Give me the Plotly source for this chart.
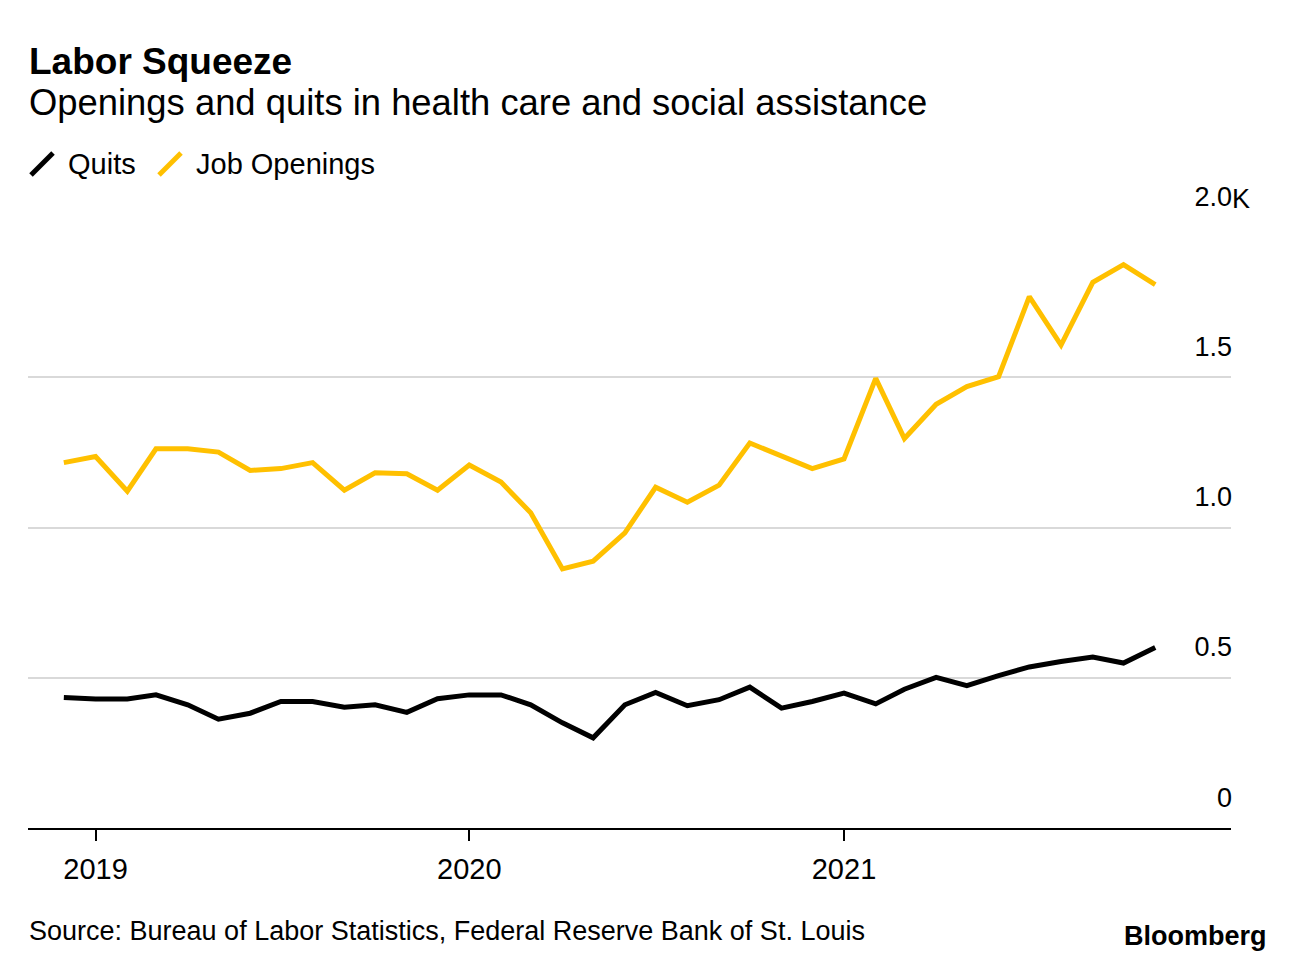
import plotly.graph_objects as go

# ---- data (thousands) ----
months = [
    "2018-12-01", "2019-01-01", "2019-02-01", "2019-03-01", "2019-04-01", "2019-05-01",
    "2019-06-01", "2019-07-01", "2019-08-01", "2019-09-01", "2019-10-01", "2019-11-01",
    "2019-12-01", "2020-01-01", "2020-02-01", "2020-03-01", "2020-04-01", "2020-05-01",
    "2020-06-01", "2020-07-01", "2020-08-01", "2020-09-01", "2020-10-01", "2020-11-01",
    "2020-12-01", "2021-01-01", "2021-02-01", "2021-03-01", "2021-04-01", "2021-05-01",
    "2021-06-01", "2021-07-01", "2021-08-01", "2021-09-01", "2021-10-01", "2021-11-01",
]
quits = [
    0.434, 0.429, 0.429, 0.443, 0.410, 0.362, 0.382, 0.421, 0.421, 0.402, 0.410, 0.385,
    0.430, 0.443, 0.443, 0.410, 0.350, 0.300, 0.410, 0.451, 0.407, 0.427, 0.469, 0.399,
    0.421, 0.449, 0.413, 0.462, 0.501, 0.474, 0.507, 0.536, 0.554, 0.569, 0.549, 0.601,
]
job_openings = [
    1.216, 1.236, 1.121, 1.262, 1.262, 1.251, 1.190, 1.196, 1.216, 1.124, 1.182, 1.179,
    1.124, 1.208, 1.151, 1.049, 0.862, 0.888, 0.982, 1.134, 1.084, 1.141, 1.281, 1.240,
    1.196, 1.228, 1.496, 1.296, 1.410, 1.469, 1.502, 1.768, 1.607, 1.816, 1.875, 1.808,
]
series_names = ["Quits", "Job Openings"]
series_colors = ["#000000", "#FFC000"]

x_tickvals = ["2019-01-01", "2020-01-01", "2021-01-01"]
x_ticktext = ["2019", "2020", "2021"]
y_tickvals = [0, 0.5, 1.0, 1.5, 2.0]
y_ticktext = ["0", "0.5", "1.0", "1.5", "2.0"]

title = "<b>Labor Squeeze</b>"
subtitle = "Openings and quits in health care and social assistance"
source = "Source: Bureau of Labor Statistics, Federal Reserve Bank of St. Louis"

FONT = "Liberation Sans, Arial, Helvetica, sans-serif"

# ---- layout geometry (screen pixels; page body has an 8px margin) ----
SW, SH, OFF = 1296, 962, 8
W, H = SW - OFF, SH - OFF
L, R, T, B = 28, 1231, 227, 828


def px(p):
    return (p - L) / (R - L)


def py(p):
    return (B - p) / (B - T)


fig = go.Figure()
for name, vals, col in zip(series_names, [quits, job_openings], series_colors):
    fig.add_trace(go.Scatter(
        x=months, y=vals, mode="lines", name=name,
        line=dict(color=col, width=5), showlegend=False,
    ))

annotations = [
    dict(text=title, x=px(27), y=py(61), xref="paper", yref="paper",
         xanchor="left", yanchor="middle", showarrow=False,
         font=dict(family=FONT, size=37, color="#000")),
    dict(text=subtitle, x=px(27), y=py(103), xref="paper", yref="paper",
         xanchor="left", yanchor="middle", showarrow=False,
         font=dict(family=FONT, size=36.4, color="#000")),
    dict(text=source, x=px(27), y=py(931), xref="paper", yref="paper",
         xanchor="left", yanchor="middle", showarrow=False,
         font=dict(family=FONT, size=27, color="#000")),
    dict(text="<b>Bloomberg</b>", x=px(1269), y=py(936), xref="paper", yref="paper",
         xanchor="right", yanchor="middle", showarrow=False,
         font=dict(family=FONT, size=27, color="#000")),
    dict(text="K", x=1.0, y=2.0, xref="paper", yref="y",
         xanchor="left", yanchor="middle", yshift=28, xshift=-1, showarrow=False,
         font=dict(family=FONT, size=27, color="#000")),
]

shapes = []
legend_icons = [(31, 175, 53, 153), (159, 175, 181, 153)]
legend_text_x = [66, 194]
for (x0, y0, x1, y1), name, col, tx in zip(legend_icons, series_names, series_colors, legend_text_x):
    shapes.append(dict(type="line", xref="paper", yref="paper",
                       x0=px(x0), y0=py(y0), x1=px(x1), y1=py(y1),
                       line=dict(color=col, width=5)))
    annotations.append(dict(text=name, x=px(tx), y=py(164), xref="paper", yref="paper",
                            xanchor="left", yanchor="middle", showarrow=False,
                            font=dict(family=FONT, size=29, color="#000")))

fig.update_layout(
    width=W, height=H,
    margin=dict(l=L - OFF, r=SW - R, t=T - OFF, b=SH - B, pad=0),
    paper_bgcolor="white", plot_bgcolor="white",
    showlegend=False,
    annotations=annotations,
    shapes=shapes,
    font=dict(family=FONT, color="#000"),
    xaxis=dict(
        type="date",
        range=["2018-10-27", "2022-01-14"],
        tickvals=x_tickvals, ticktext=x_ticktext,
        showgrid=False, zeroline=False,
        showline=True, linecolor="#000", linewidth=2,
        ticks="outside", ticklen=11, tickwidth=1.5, tickcolor="#000",
        tickfont=dict(family=FONT, size=29, color="#000"),
        ticklabelstandoff=3,
    ),
    yaxis=dict(
        range=[0, 2.0], side="right",
        tickvals=y_tickvals, ticktext=y_ticktext,
        showgrid=True, gridcolor="#d9d9d9", gridwidth=2,
        zeroline=False, showline=False, ticks="",
        ticklabelposition="inside top", ticklabeloverflow="allow",
        ticklabelshift=-12, ticklabelstandoff=-4,
        tickfont=dict(family=FONT, size=27, color="#000"),
    ),
)

fig.write_html("out.html")
